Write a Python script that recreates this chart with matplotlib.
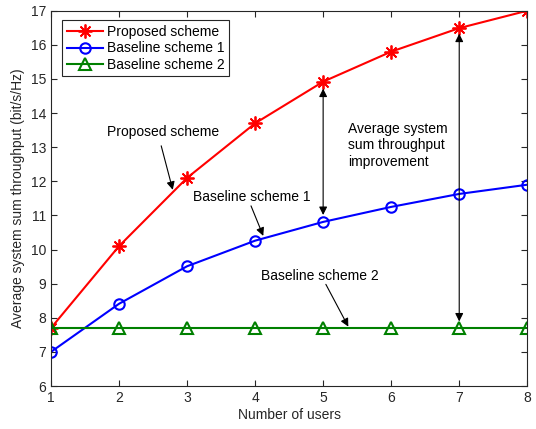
import matplotlib
matplotlib.use("Agg")
import matplotlib.pyplot as plt

users = [1, 2, 3, 4, 5, 6, 7, 8]
proposed = [7.7, 10.1, 12.1, 13.7, 14.92, 15.8, 16.49, 17.0]
baseline1 = [7.0, 8.41, 9.51, 10.26, 10.81, 11.25, 11.63, 11.9]
baseline2 = [7.71, 7.71, 7.71, 7.71, 7.71, 7.71, 7.71, 7.71]

plt.rcParams['font.family'] = ['Liberation Sans', 'DejaVu Sans']
plt.rcParams['font.size'] = 10

fig = plt.figure(figsize=(5.36, 4.29), dpi=100)
ax = fig.add_axes([0.0951, 0.1002, 0.8886, 0.8748])

dark = '#262626'
ax.plot(users, proposed, color='red', lw=1.5, marker=(8, 2, 0), ms=10, mew=1.3, label='Proposed scheme')
ax.plot(users, baseline1, color='blue', lw=1.5, marker='o', ms=7.5, mfc='none', mew=1.5, label='Baseline scheme 1')
ax.plot(users, baseline2, color='green', lw=1.5, marker='^', ms=8, mfc='none', mew=1.5, label='Baseline scheme 2')

ax.set_xlim(1, 8)
ax.set_ylim(6, 17)
ax.set_xticks(range(1, 9))
ax.set_yticks(range(6, 18))
ax.tick_params(direction='in', top=True, right=True, colors=dark, length=4, labelsize=10)
for s in ax.spines.values():
    s.set_color(dark)
    s.set_linewidth(0.8)

ax.set_xlabel('Number of users', color=dark, labelpad=2)
ax.set_ylabel('Average system sum throughput (bit/s/Hz)', color=dark, labelpad=4)

leg = ax.legend(loc='upper left', bbox_to_anchor=(0.024, 0.974), fancybox=False, framealpha=1,
                edgecolor=dark, handlelength=2.6, borderpad=0.3, labelspacing=0.2,
                handletextpad=0.3, borderaxespad=0)
leg.get_frame().set_linewidth(0.8)

arw = dict(arrowstyle='-|>', color='black', lw=0.8, mutation_scale=12, shrinkA=0, shrinkB=0)
ax.annotate('', xy=(2.79, 11.75), xytext=(2.62, 13.04), arrowprops=arw)
ax.text(2.646, 13.45, 'Proposed scheme', ha='center', va='center', color='black')

ax.annotate('', xy=(4.12, 10.40), xytext=(3.94, 11.28), arrowprops=arw)
ax.text(3.954, 11.54, 'Baseline scheme 1', ha='center', va='center', color='black')

ax.annotate('', xy=(5.37, 7.74), xytext=(5.04, 8.98), arrowprops=arw)
ax.text(4.954, 9.23, 'Baseline scheme 2', ha='center', va='center', color='black')

darw5 = dict(arrowstyle='<|-|>', color='black', lw=0.8, mutation_scale=12, shrinkA=5, shrinkB=5)
darw7 = dict(arrowstyle='<|-|>', color='black', lw=0.8, mutation_scale=12, shrinkA=4.5, shrinkB=4)
ax.annotate('', xy=(5, proposed[4]), xytext=(5, baseline1[4]), arrowprops=darw5)
ax.annotate('', xy=(7, proposed[6]), xytext=(7, baseline2[6]), arrowprops=darw7)
ax.text(5.37, 13.05, 'Average system\nsum throughput\nimprovement', ha='left', va='center',
        color='black', linespacing=1.25)

fig.savefig('out.png', dpi=100)
